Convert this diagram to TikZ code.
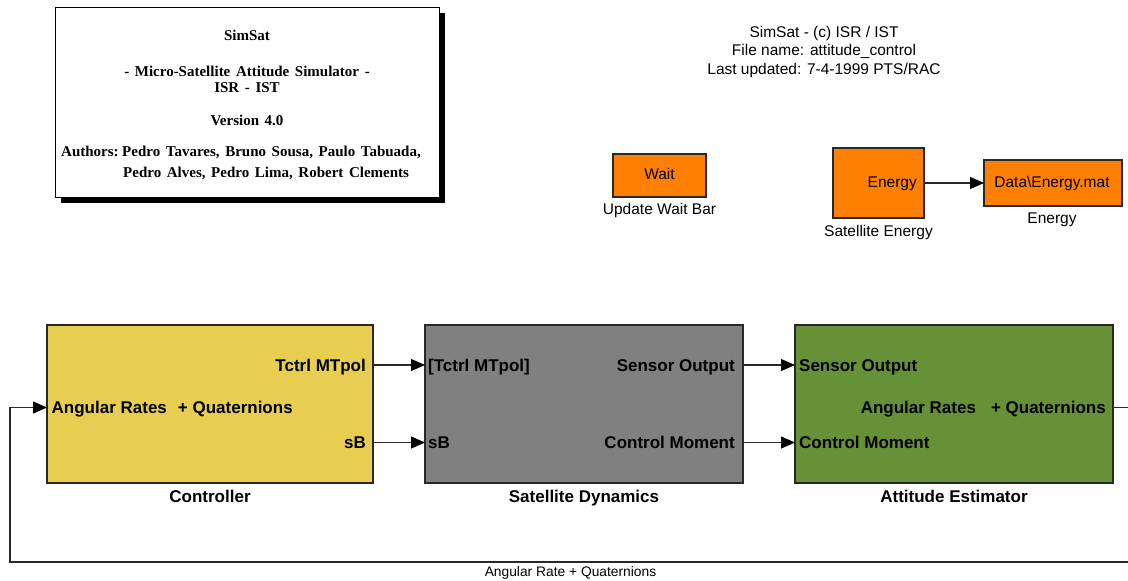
\documentclass[tikz,border=0pt]{standalone}
\usepackage{fontspec}
\setmainfont{Liberation Sans}
\newfontfamily\titleserif{Liberation Serif}[WordSpace={1.5,0.5,0.5}]
\usetikzlibrary{arrows.meta}
\newcommand\setpx[1]{\fontsize{#1pt}{#1pt}\selectfont}
\definecolor{ctrlyellow}{RGB}{231,205,80}
\definecolor{dyngray}{RGB}{128,128,128}
\definecolor{estgreen}{RGB}{102,145,54}
\definecolor{blkorange}{RGB}{255,128,0}
\definecolor{edge}{RGB}{40,40,40}

\begin{document}
\begin{tikzpicture}[x=1pt,y=-1pt,
  blk/.style={draw=edge, line width=1.3pt, inner sep=0pt, outer sep=0pt, anchor=north west},
  small/.style={font=\setpx{15.5}, inner sep=0pt},
  tiny/.style={font=\setpx{13.8}, inner sep=0pt},
  plab/.style={font=\setpx{17}\bfseries, inner sep=0pt},
  ttl/.style={font=\titleserif\setpx{15}\bfseries, inner sep=0pt},
  wire/.style={draw=edge, line width=1.1pt},
  conn/.style={wire, -{Triangle[length=14pt,width=12pt,color=black]}},
]
\useasboundingbox (0,0) rectangle (1128,581);
\fill[white] (0,0) rectangle (1128,581);
\clip (0,0) rectangle (1128,581);

% title card with its drop shadow
\node[blk, draw=none, fill=black, minimum width=384pt, minimum height=190pt] (titleshadow) at (61,13) {};
\node[blk, draw=black, line width=1pt, fill=white, minimum width=384pt, minimum height=190pt] (title) at (55,7) {};
\node[ttl, anchor=base] (t1) at (247,40) {SimSat};
\node[ttl, anchor=base] (t2) at (247,76.5) {- Micro-Satellite Attitude Simulator -};
\node[ttl, anchor=base] (t3) at (247,92.5) {ISR - IST};
\node[ttl, anchor=base] (t4) at (247,125) {Version 4.0};
\node[ttl, anchor=base west] (t5) at (61,156.5) {Authors:};
\node[ttl, anchor=base west] (t6) at (122,156.5) {Pedro Tavares, Bruno Sousa, Paulo Tabuada,};
\node[ttl, anchor=base west] (t7) at (123,177) {Pedro Alves, Pedro Lima, Robert Clements};

% file header
\node[small, anchor=base] (h1) at (824,37) {SimSat - (c) ISR / IST};
\node[small, anchor=base] (h2) at (824,55.5) {File name: attitude\_control};
\node[small, anchor=base] (h3) at (824,74) {Last updated: 7-4-1999 PTS/RAC};

% wait bar block
\node[blk, fill=blkorange, minimum width=93pt, minimum height=43pt] (wait) at (613,154) {};
\node[small, anchor=base] (waittxt) at (659.5,179) {Wait};
\node[small, anchor=base] (waitlab) at (659.5,214) {Update Wait Bar};

% energy blocks
\node[blk, fill=blkorange, minimum width=91pt, minimum height=70pt] (seng) at (833,148) {};
\node[small, anchor=base east] (sengtxt) at (917,187) {Energy};
\node[small, anchor=base] (senglab) at (878.5,236) {Satellite Energy};
\node[blk, fill=blkorange, minimum width=138pt, minimum height=46pt] (edata) at (984,160) {};
\node[small, anchor=base] (edatatxt) at (1052,187) {Data\textbackslash Energy.mat};
\node[small, anchor=base] (edatalab) at (1052,223) {Energy};
\coordinate (yE) at (0,183);
\draw[conn] (seng.east |- yE) -- (edata.west |- yE);

% main subsystems
\node[blk, fill=ctrlyellow, minimum width=326pt, minimum height=158pt] (ctrl) at (47,325) {};
\node[blk, fill=dyngray, minimum width=318pt, minimum height=158pt] (dyn) at (425,325) {};
\node[blk, fill=estgreen, minimum width=318pt, minimum height=158pt] (est) at (795,325) {};

\node[plab, anchor=base] (ctrllab) at (210,502) {Controller};
\node[plab, anchor=base] (dynlab) at (584,502) {Satellite Dynamics};
\node[plab, anchor=base] (estlab) at (954,502) {Attitude Estimator};

% port labels
\node[plab, anchor=base east] (c-o1) at (366,371) {Tctrl MTpol};
\node[plab, anchor=base east] (c-o2) at (366,448.5) {sB};
\node[plab, anchor=base west] (c-i1) at (51.5,413.5) {Angular Rates\hspace{11pt}+ Quaternions};
\node[plab, anchor=base west] (d-i1) at (428,371) {[Tctrl MTpol]};
\node[plab, anchor=base west] (d-i2) at (428,448.5) {sB};
\node[plab, anchor=base east] (d-o1) at (735,371) {Sensor Output};
\node[plab, anchor=base east] (d-o2) at (735,448.5) {Control Moment};
\node[plab, anchor=base west] (e-i1) at (799,371) {Sensor Output};
\node[plab, anchor=base west] (e-i2) at (799,448.5) {Control Moment};
\node[plab, anchor=base east] (e-o1) at (1106,413.5) {Angular Rates\hspace{15pt}+ Quaternions};

% signal lines
\coordinate (yA) at (0,365);
\coordinate (yB) at (0,442.5);
\coordinate (yM) at (0,407.5);
\draw[conn] (ctrl.east |- yA) -- (dyn.west |- yA);
\draw[conn] (ctrl.east |- yB) -- (dyn.west |- yB);
\draw[conn] (dyn.east |- yA) -- (est.west |- yA);
\draw[conn] (dyn.east |- yB) -- (est.west |- yB);

% feedback loop
\coordinate (fbR) at (1140,562);
\coordinate (fbL) at (10,562);
\draw[conn] (est.east |- yM) -| (fbR) -- (fbL) |- (ctrl.west |- yM);
\node[tiny, anchor=base] (fblab) at (570.5,576) {Angular Rate + Quaternions};
\end{tikzpicture}
\end{document}
